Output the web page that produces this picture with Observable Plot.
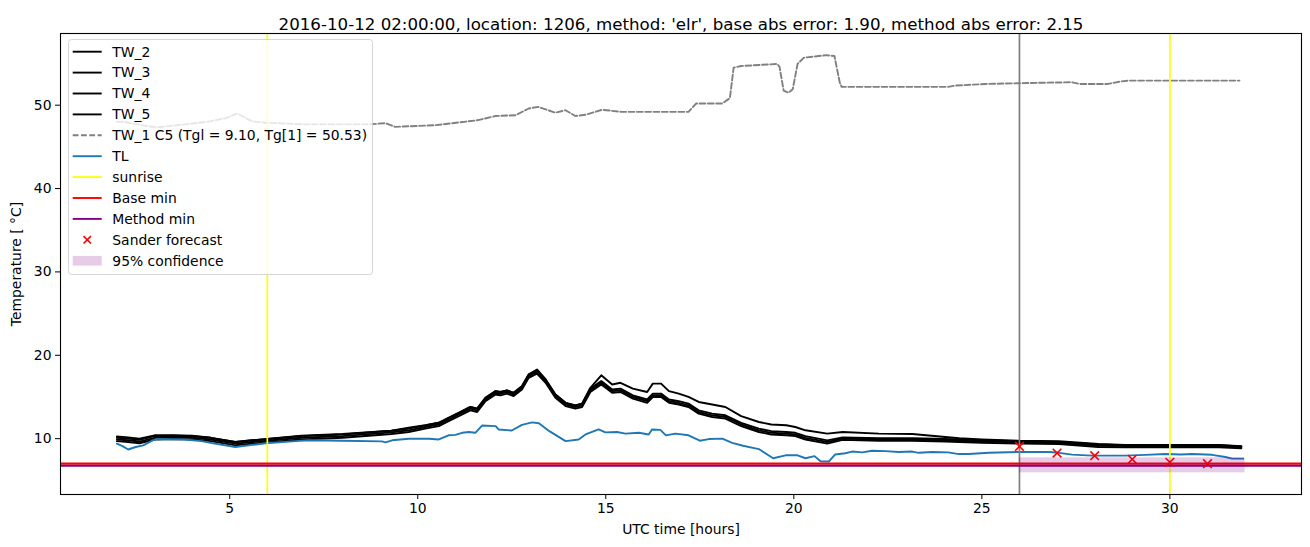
<!DOCTYPE html>
<html><head><meta charset="utf-8">
<script src="https://cdn.jsdelivr.net/npm/d3@7"></script>
<script src="https://cdn.jsdelivr.net/npm/@observablehq/plot@0.6"></script>
<style>body{margin:0;background:#fff} svg{display:block}</style>
</head><body><div id="chart"></div>
<script>
const titleText = "2016-10-12 02:00:00, location: 1206, method: 'elr', base abs error: 1.90, method abs error: 2.15";
const xTicks = [5, 10, 15, 20, 25, 30];
const yTicks = [10, 20, 30, 40, 50];

const twHours = [2.0,2.3,2.6,3.0,3.5,4.0,4.5,5.15,5.6,6.0,6.9,8.0,9.3,9.76,10.2,10.56,10.82,11.09,11.4,11.58,11.8,12.07,12.2,12.37,12.55,12.77,12.95,13.17,13.4,13.66,13.93,14.19,14.37,14.59,14.88,15.17,15.39,15.72,16.1,16.25,16.47,16.68,16.94,17.2,17.47,17.83,18.18,18.6,19.07,19.4,19.8,20.04,20.31,20.89,21.3,22.26,23.15,24.03,24.4,25.0,26.0,27.05,28.1,28.8,31.3,31.9];
const tw2 = [10.25,10.15,10.0,10.4,10.4,10.35,10.1,9.6,9.8,9.95,10.35,10.55,10.95,11.3,11.6,11.9,12.5,13.1,13.8,13.6,14.9,15.7,15.6,15.8,15.5,16.3,17.7,18.3,17.1,15.3,14.3,14.0,14.2,16.1,17.6,16.5,16.7,16.0,15.6,16.6,16.6,15.7,15.4,15.0,14.4,14.1,13.8,12.7,12.0,11.7,11.6,11.4,11.0,10.6,10.8,10.6,10.55,10.2,10.05,9.9,9.75,9.7,9.35,9.25,9.25,9.1];
const tw3 = [10.1,10.0,9.85,10.3,10.35,10.3,10.1,9.6,9.8,9.95,10.3,10.5,10.95,11.2,11.6,11.9,12.5,13.1,13.8,13.6,14.9,15.7,15.6,15.8,15.5,16.3,17.7,18.2,17.1,15.3,14.3,14.0,14.2,16.0,16.9,15.9,16.0,15.2,14.7,15.4,15.4,14.7,14.5,14.2,13.4,13.0,12.8,11.9,11.2,10.9,10.8,10.7,10.3,9.8,10.15,10.05,10.05,9.95,9.9,9.8,9.7,9.6,9.3,9.2,9.2,9.05];
const tw4 = [9.9,9.8,9.65,10.1,10.15,10.1,9.9,9.4,9.6,9.75,10.1,10.3,10.75,11.0,11.4,11.7,12.3,12.9,13.6,13.4,14.7,15.5,15.4,15.6,15.3,16.1,17.5,18.0,16.9,15.1,14.1,13.8,14.0,15.8,16.7,15.7,15.8,15.0,14.5,15.2,15.2,14.5,14.3,14.0,13.2,12.8,12.6,11.7,11.0,10.7,10.6,10.5,10.1,9.6,10.0,9.9,9.9,9.8,9.75,9.65,9.55,9.5,9.15,9.1,9.1,8.95];
const tw5 = [9.7,9.6,9.45,9.9,9.95,9.9,9.7,9.2,9.4,9.55,9.9,10.1,10.55,10.8,11.2,11.5,12.1,12.7,13.4,13.2,14.5,15.3,15.2,15.4,15.1,15.9,17.3,17.8,16.7,14.9,13.9,13.6,13.8,15.6,16.5,15.5,15.6,14.8,14.3,15.0,15.0,14.3,14.1,13.8,13.0,12.6,12.4,11.5,10.8,10.5,10.4,10.3,9.9,9.4,9.85,9.75,9.75,9.65,9.6,9.5,9.4,9.35,9.0,8.95,8.95,8.85];

const tw1Hours = [2.0,2.2,2.85,3.1,4.4,4.9,5.2,5.6,5.95,7.0,8.7,9.14,9.4,10.47,11.6,12.07,12.6,12.95,13.2,13.66,13.93,14.19,14.46,14.9,15.43,17.2,17.4,18.1,18.3,18.4,18.6,19.56,19.62,19.73,19.86,19.97,20.1,20.27,20.87,21.08,21.22,21.27,22.0,24.1,24.3,25.1,26.7,27.4,27.6,28.35,28.7,28.9,31.85];
const tw1 = [48.0,48.0,47.45,47.35,48.0,48.45,49.0,48.05,47.9,47.7,47.7,47.85,47.4,47.6,48.2,48.7,48.8,49.6,49.8,49.1,49.4,48.7,48.85,49.45,49.2,49.2,50.2,50.2,50.85,54.5,54.7,54.95,54.6,51.75,51.5,51.9,54.95,55.7,56.0,55.9,52.75,52.2,52.2,52.2,52.35,52.55,52.7,52.75,52.55,52.55,52.85,52.95,52.95];

const tlHours = [2.0,2.15,2.3,2.5,2.7,2.95,3.05,3.8,4.25,4.6,5.15,5.6,5.95,6.75,7.1,8.0,9.05,9.14,9.32,9.76,10.3,10.56,10.82,11.0,11.18,11.36,11.53,11.71,12.07,12.15,12.5,12.77,13.04,13.22,13.5,13.93,14.28,14.46,14.81,14.99,15.3,15.52,15.88,16.14,16.23,16.45,16.6,16.85,17.2,17.5,17.74,18.1,18.36,18.65,19.07,19.45,19.78,20.1,20.31,20.55,20.71,20.93,21.1,21.37,21.55,21.82,22.08,22.44,22.79,23.15,23.32,23.68,24.1,24.39,24.65,25.19,25.98,26.78,27.05,27.4,27.93,28.82,29.35,29.88,30.3,30.59,31.12,31.48,31.66,31.95];
const tl = [9.4,9.1,8.7,9.0,9.2,9.8,9.95,9.9,9.7,9.4,9.0,9.25,9.45,9.7,9.8,9.75,9.67,9.55,9.8,9.98,9.98,9.9,10.4,10.45,10.7,10.8,10.7,11.57,11.5,11.1,10.98,11.66,11.95,11.85,10.9,9.7,9.9,10.5,11.1,10.75,10.8,10.6,10.7,10.5,11.1,11.05,10.4,10.6,10.4,9.75,9.95,10.0,9.5,9.15,8.75,7.65,8.0,8.0,7.65,7.9,7.28,7.25,8.1,8.25,8.45,8.35,8.55,8.5,8.4,8.45,8.3,8.4,8.35,8.15,8.15,8.3,8.4,8.4,8.3,8.08,7.96,7.96,8.05,8.16,8.1,8.16,8.06,7.8,7.6,7.6];

const sunriseHours = [6, 30];
const forecastHour = [26];
const baseMin = [7.0];
const methodMin = [6.75];
const sanderHours = [26, 27, 28, 29, 30, 31];
const sanderValues = [9.07, 8.27, 7.96, 7.52, 7.16, 7.0];
const confHours = [26, 32];
const confLow = [5.9];
const confHigh = [7.7];

const legendLabels = ["TW_2", "TW_3", "TW_4", "TW_5", "TW_1 C5 (Tgl = 9.10, Tg[1] = 50.53)", "TL", "sunrise", "Base min", "Method min", "Sander forecast", "95% confidence"];

const pairs = (xs, ys) => xs.map((x, i) => [x, ys[i]]);
const LW = 1.9;

const chart = Plot.plot({
  width: 1310, height: 547,
  marginLeft: 60, marginRight: 9, marginTop: 33, marginBottom: 53,
  style: {fontFamily: "DejaVu Sans", fontSize: "13.9px", background: "white", color: "black", overflow: "visible"},
  x: {domain: [0.5, 33.5]},
  y: {domain: [3.3, 58.6]},
  marks: [
    Plot.line(pairs(twHours, tw2), {stroke: "black", strokeWidth: LW}),
    Plot.line(pairs(twHours, tw3), {stroke: "black", strokeWidth: LW}),
    Plot.line(pairs(twHours, tw4), {stroke: "black", strokeWidth: LW}),
    Plot.line(pairs(twHours, tw5), {stroke: "black", strokeWidth: LW}),
    Plot.line(pairs(tw1Hours, tw1), {stroke: "gray", strokeWidth: 1.9, strokeDasharray: "5.8,2.5"}),
    Plot.line(pairs(tlHours, tl), {stroke: "#1f77b4", strokeWidth: LW}),
    Plot.ruleX(sunriseHours, {stroke: "yellow", strokeWidth: 1.7}),
    Plot.ruleX(forecastHour, {stroke: "gray", strokeWidth: 1.7}),
    Plot.ruleY(baseMin, {stroke: "red", strokeWidth: 2.2}),
    Plot.ruleY(methodMin, {stroke: "purple", strokeWidth: 2.2}),
    Plot.dot(pairs(sanderHours, sanderValues), {symbol: "times", stroke: "red", r: 4, strokeWidth: 1.6}),
    Plot.rect([0], {x1: confHours[0], x2: confHours[1], y1: confLow[0], y2: confHigh[0], fill: "purple", fillOpacity: 0.2}),
    Plot.axisX({ticks: xTicks, tickSize: 5, tickPadding: 4, label: "UTC time [hours]", labelAnchor: "center", labelArrow: "none", labelOffset: 39}),
    Plot.axisY({ticks: yTicks, tickSize: 5, tickPadding: 4, label: "Temperature [ °C]", labelAnchor: "center", labelArrow: "none", labelOffset: 49}),
    Plot.frame({stroke: "black", strokeWidth: 1.1}),
    Plot.text([titleText], {text: d => d, frameAnchor: "top", dy: -15, fontSize: 16.67})
  ]
});
document.getElementById("chart").appendChild(chart);

// legend (matplotlib-style box)
const svg = d3.select(chart);
const lg = svg.append("g").attr("font-family", "DejaVu Sans").attr("font-size", "13.9px").attr("text-anchor", "start");
lg.append("rect").attr("x", 68.5).attr("y", 39.5).attr("width", 304).attr("height", 235).attr("rx", 3)
  .attr("fill", "white").attr("fill-opacity", 0.8).attr("stroke", "#cccccc").attr("stroke-opacity", 0.8);
const styles = [
  {t: "line", c: "black"}, {t: "line", c: "black"}, {t: "line", c: "black"}, {t: "line", c: "black"},
  {t: "line", c: "gray", d: "5.8,2.5"}, {t: "line", c: "#1f77b4"}, {t: "line", c: "yellow"},
  {t: "line", c: "red"}, {t: "line", c: "purple"}, {t: "x", c: "red"}, {t: "patch", c: "purple"}
];
legendLabels.forEach((lab, i) => {
  const y = 51.7 + i * 20.9;
  const s = styles[i];
  if (s.t === "line") {
    lg.append("line").attr("x1", 72.7).attr("x2", 101.7).attr("y1", y).attr("y2", y)
      .attr("stroke", s.c).attr("stroke-width", 1.9).attr("stroke-dasharray", s.d || null);
  } else if (s.t === "x") {
    lg.append("path").attr("d", `M${87.2-3.7},${y-3.7}L${87.2+3.7},${y+3.7}M${87.2-3.7},${y+3.7}L${87.2+3.7},${y-3.7}`)
      .attr("stroke", s.c).attr("stroke-width", 1.6);
  } else {
    lg.append("rect").attr("x", 72.7).attr("y", y - 4.8).attr("width", 29).attr("height", 9.7)
      .attr("fill", s.c).attr("fill-opacity", 0.2);
  }
  lg.append("text").attr("x", 112.3).attr("y", y).attr("dy", "0.35em").attr("fill", "black").text(lab);
});
</script>
</body></html>
